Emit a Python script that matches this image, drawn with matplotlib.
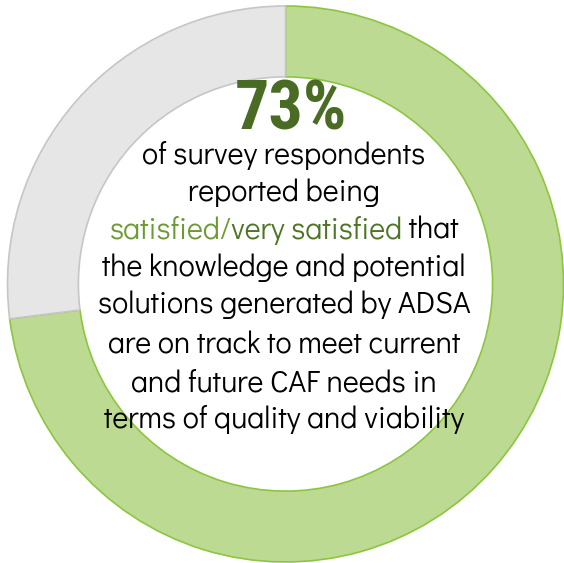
import matplotlib
matplotlib.use("Agg")
import matplotlib.pyplot as plt

values = [73, 27]
labels = ["Satisfied/very satisfied", "Other"]
headline = "73%"
lines = [
    [("of survey respondents", "#000000")],
    [("reported being", "#000000")],
    [("satisfied/", "#6E9A35"), ("very satisfied", "#4E7526"), (" that", "#000000")],
    [("the knowledge and potential", "#000000")],
    [("solutions generated by ADSA", "#000000")],
    [("are on track to meet current", "#000000")],
    [("and future CAF needs in", "#000000")],
    [("terms of quality and viability", "#000000")],
]

W, H = 564, 563
fig = plt.figure(figsize=(W / 100, H / 100), dpi=100)
ax = fig.add_axes([0, 0, 1, 1])
cx, cy, R = 285.5, 284.0, 278.0
wedges, _ = ax.pie(values, startangle=90, counterclock=False,
                   colors=["#BDDA93", "#E6E6E6"], radius=1.0,
                   wedgeprops=dict(width=0.255, linewidth=1.2))
wedges[0].set_edgecolor("#8CC63F")
wedges[1].set_edgecolor("#C6C6C6")
ax.set_aspect("auto")
ax.set_xlim(-cx / R, (W - cx) / R)
ax.set_ylim(-(H - cy) / R, cy / R)
ax.axis("off")

head_font = ["Roboto Condensed", "DejaVu Sans"]
body_font = ["Didact Gothic", "DejaVu Sans"]

renderer = fig.canvas.get_renderer()

ht = fig.text(291 / W, 1 - 111 / H, headline, ha="center", va="center",
              fontsize=49, fontweight="bold", family=head_font, color="#4A6B23")

# scale body font so the widest line matches the reference width
probe = fig.text(0, 0, "the knowledge and potential", fontsize=20, family=body_font)
w20 = probe.get_window_extent(renderer).width
probe.remove()
fs = 20 * 365.0 / w20

ys = [156, 193, 230, 268, 305, 345, 383, 420]
xc = 284
for y, parts in zip(ys, lines):
    full = "".join(p for p, _ in parts)
    t = fig.text(0, 0, full, fontsize=fs, family=body_font)
    wfull = t.get_window_extent(renderer).width
    t.remove()
    x = xc - wfull / 2
    for p, col in parts:
        tt = fig.text(x / W, 1 - y / H, p, fontsize=fs, family=body_font,
                      color=col, ha="left", va="center")
        x += tt.get_window_extent(renderer).width

fig.savefig("out.png", dpi=100)
